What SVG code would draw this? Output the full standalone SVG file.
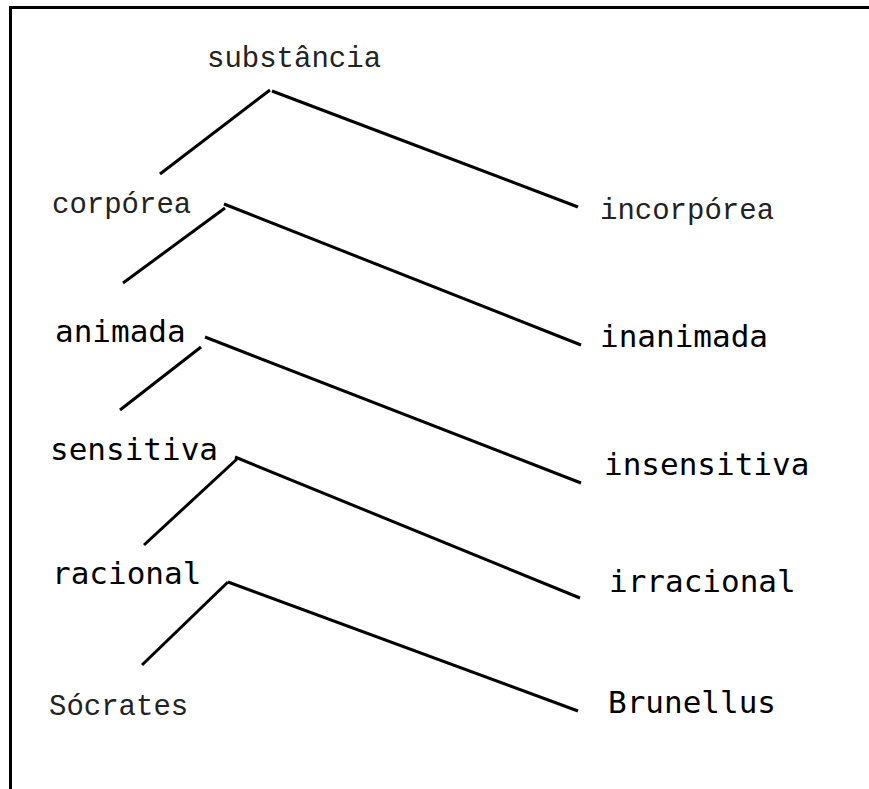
<svg xmlns="http://www.w3.org/2000/svg" width="869" height="789" viewBox="0 0 869 789">
<style>
.m{font-family:"Liberation Mono","Courier New",monospace;font-size:29px;fill:#222}
.s{font-family:"DejaVu Sans Mono",monospace;font-size:31px;fill:#000}
.c line,.b{stroke:#000;stroke-width:3;fill:none}
</style>
<rect width="869" height="789" fill="#fff"/>
<path class="b" d="M10.5,789 V7.5 H869"/>
<g id="substancia"><text class="m" x="207" y="67">substância</text></g>
<g id="corporea"><text class="m" x="52" y="213">corpórea</text></g>
<g id="incorporea"><text class="m" x="600" y="219">incorpórea</text></g>
<g id="animada"><text class="s" x="55" y="342">animada</text></g>
<g id="inanimada"><text class="s" x="600" y="347">inanimada</text></g>
<g id="sensitiva"><text class="s" x="50" y="460">sensitiva</text></g>
<g id="insensitiva"><text class="s" x="604" y="475">insensitiva</text></g>
<g id="racional"><text class="s" x="52" y="584">racional</text></g>
<g id="irracional"><text class="s" x="609" y="592">irracional</text></g>
<g id="socrates"><text class="m" x="49" y="715">Sócrates</text></g>
<g id="brunellus"><text class="s" x="608" y="713">Brunellus</text></g>
<g class="c" id="connectors">
<line x1="160" y1="174" x2="270" y2="90"/>
<line x1="272" y1="91" x2="578" y2="207"/>
<line x1="123" y1="283" x2="225" y2="208"/>
<line x1="224" y1="204" x2="581" y2="345"/>
<line x1="120" y1="410" x2="201" y2="347"/>
<line x1="205" y1="337" x2="581" y2="483"/>
<line x1="144" y1="545" x2="237" y2="459"/>
<line x1="235" y1="457" x2="580" y2="598"/>
<line x1="142" y1="665" x2="228" y2="582"/>
<line x1="228" y1="582" x2="578" y2="711"/>
</g>
</svg>
